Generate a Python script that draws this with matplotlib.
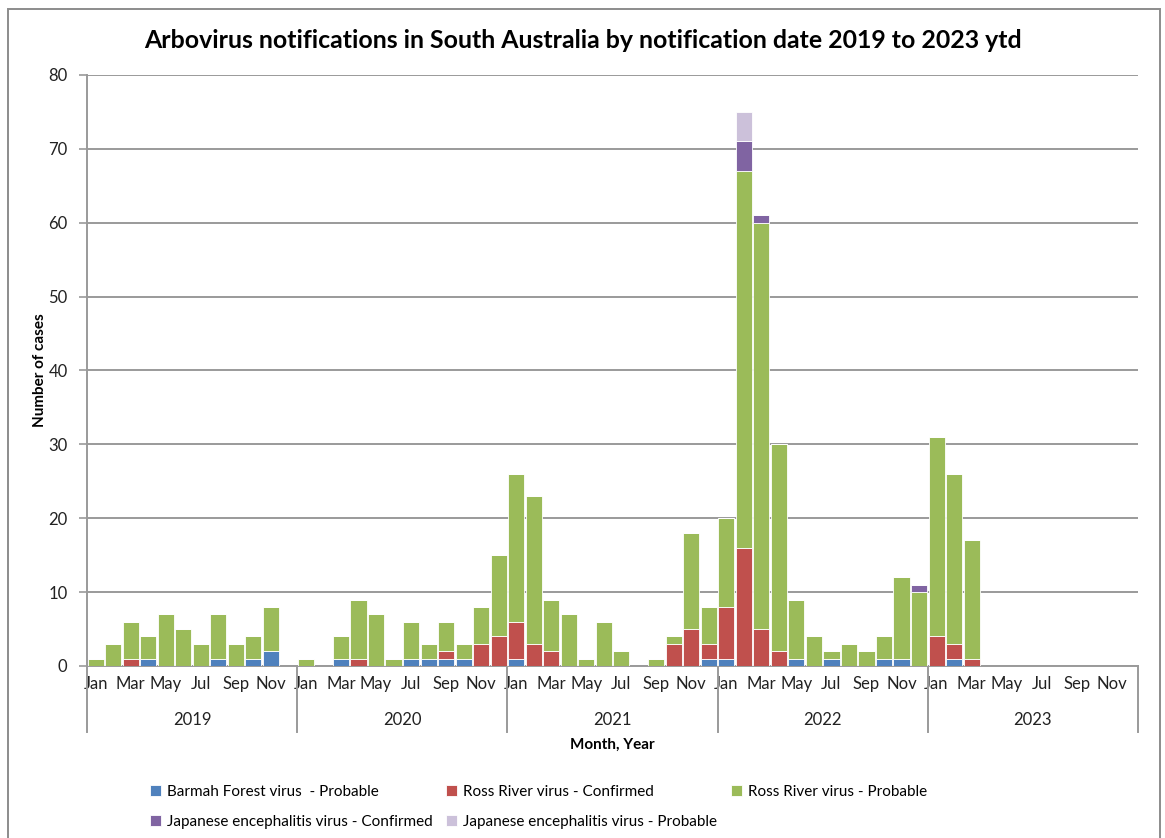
import matplotlib
matplotlib.use("Agg")
from matplotlib import pyplot as plt
from matplotlib.patches import Rectangle
from matplotlib.transforms import blended_transform_factory
import numpy as np

plt.rcParams['font.family'] = ['Lato', 'DejaVu Sans']

years = ['2019', '2020', '2021', '2022', '2023']
month_names = ['Jan', 'Feb', 'Mar', 'Apr', 'May', 'Jun', 'Jul', 'Aug', 'Sep', 'Oct', 'Nov', 'Dec']

# monthly counts, Jan 2019 .. Dec 2023
barmah_prob = [0, 0, 0, 1, 0, 0, 0, 1, 0, 1, 2, 0,
               0, 0, 1, 0, 0, 0, 1, 1, 1, 1, 0, 0,
               1, 0, 0, 0, 0, 0, 0, 0, 0, 0, 0, 1,
               1, 0, 0, 0, 1, 0, 1, 0, 0, 1, 1, 0,
               0, 1, 0, 0, 0, 0, 0, 0, 0, 0, 0, 0]
ross_conf = [0, 0, 1, 0, 0, 0, 0, 0, 0, 0, 0, 0,
             0, 0, 0, 1, 0, 0, 0, 0, 1, 0, 3, 4,
             5, 3, 2, 0, 0, 0, 0, 0, 0, 3, 5, 2,
             7, 16, 5, 2, 0, 0, 0, 0, 0, 0, 0, 0,
             4, 2, 1, 0, 0, 0, 0, 0, 0, 0, 0, 0]
ross_prob = [1, 3, 5, 3, 7, 5, 3, 6, 3, 3, 6, 0,
             1, 0, 3, 8, 7, 1, 5, 2, 4, 2, 5, 11,
             20, 20, 7, 7, 1, 6, 2, 0, 1, 1, 13, 5,
             12, 51, 55, 28, 8, 4, 1, 3, 2, 3, 11, 10,
             27, 23, 16, 0, 0, 0, 0, 0, 0, 0, 0, 0]
je_conf = [0] * 37 + [4, 1] + [0] * 8 + [1] + [0] * 12
je_prob = [0] * 37 + [4] + [0] * 22

series = [
    ('Barmah Forest virus  - Probable', barmah_prob, '#4F81BD'),
    ('Ross River virus - Confirmed', ross_conf, '#C0504D'),
    ('Ross River virus - Probable', ross_prob, '#9BBB59'),
    ('Japanese encephalitis virus - Confirmed', je_conf, '#8064A2'),
    ('Japanese encephalitis virus - Probable', je_prob, '#CCC1DA'),
]

fig = plt.figure(figsize=(11.65, 8.38), dpi=100)
ax = fig.add_axes([87 / 1165, 1 - 666 / 838, (1138 - 87) / 1165, (666 - 75) / 838])

x = np.arange(len(ross_prob))
bottom = np.zeros(len(x))
handles = []
for name, vals, col in series:
    vals = np.array(vals)
    b = ax.bar(x, vals, width=0.92, bottom=bottom, color=col, edgecolor='white',
               linewidth=0.6, label=name, zorder=3)
    handles.append(b)
    bottom += vals

ax.set_xlim(-0.5, len(x) - 0.5)
ax.set_ylim(0, 80)
ax.set_yticks(range(0, 81, 10))
ax.yaxis.grid(True, color='#9a9a9a', linewidth=1.4, zorder=0)
ax.set_axisbelow(True)
for s in ['top', 'right']:
    ax.spines[s].set_visible(False)
for s in ['left', 'bottom']:
    ax.spines[s].set_color('#9a9a9a')
    ax.spines[s].set_linewidth(1.4)
ax.tick_params(axis='y', direction='out', length=6, width=1.2, color='#9a9a9a',
               labelsize=12, labelcolor='#222222', pad=8)

ticks = list(range(0, len(x), 2))
ax.set_xticks(ticks)
ax.set_xticklabels([month_names[t % 12] for t in ticks], fontsize=12, color='#222222')
ax.tick_params(axis='x', length=0, pad=7)

trans = blended_transform_factory(ax.transData, ax.transAxes)
sep_bottom = -(732 - 666) / (666 - 75)
for k in range(len(years) + 1):
    ax.plot([k * 12 - 0.5, k * 12 - 0.5], [0, sep_bottom], color='#9a9a9a',
            linewidth=1.4, transform=trans, clip_on=False)
for k, yr in enumerate(years):
    ax.text(k * 12 + 5.5, -(720 - 666) / (666 - 75), yr, transform=trans,
            ha='center', va='center', fontsize=12, color='#222222')

ax.text(0.5, -(745 - 666) / (666 - 75), 'Month, Year', transform=ax.transAxes,
        ha='center', va='center', fontsize=11, fontweight='bold')
fig.text(40 / 1165, 1 - 370 / 838, 'Number of cases', rotation=90, ha='center',
         va='center', fontsize=11, fontweight='bold')
fig.text(583 / 1165, 1 - 40 / 838,
         'Arbovirus notifications in South Australia by notification date 2019 to 2023 ytd',
         ha='center', va='center', fontsize=17.9, fontweight='bold')

order = [0, 3, 1, 4, 2]
leg = fig.legend([handles[i] for i in order], [series[i][0] for i in order],
                 ncol=3, loc='center left', bbox_to_anchor=(150 / 1165, 1 - 807 / 838),
                 frameon=False, fontsize=11, handlelength=0.7, handleheight=0.7,
                 handletextpad=0.4, columnspacing=0.9, labelspacing=1.05,
                 borderaxespad=0, borderpad=0)

fig.patches.append(Rectangle((8 / 1165, -0.05), (1160 - 8) / 1165, 1 - 9 / 838 + 0.05,
                             transform=fig.transFigure, fill=False,
                             edgecolor='#8c8c8c', linewidth=1.4))

fig.savefig('out.png', dpi=100)
